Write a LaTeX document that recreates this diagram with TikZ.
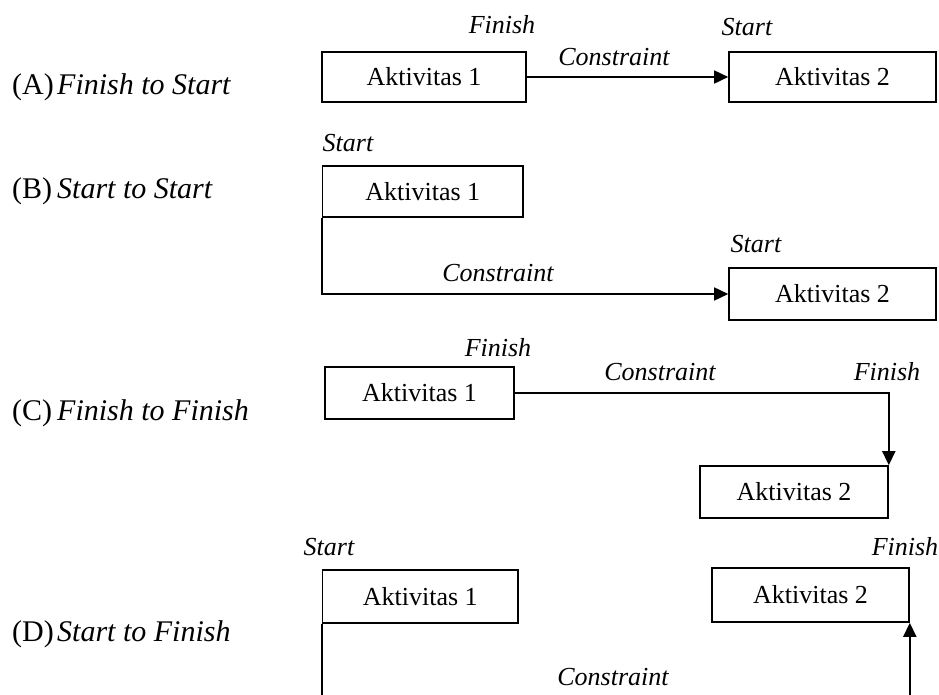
\documentclass[tikz,border=0pt]{standalone}
\usepackage{fontspec}
\setmainfont{Liberation Serif}
\usetikzlibrary{arrows.meta}
\begin{document}
\begin{tikzpicture}[x=1pt,y=-1pt,
  box/.style={draw, line width=1.6pt, inner sep=0pt, font=\fontsize{26}{31}\selectfont},
  lab/.style={font=\fontsize{26}{31}\selectfont\itshape, inner sep=0pt},
  rowtag/.style={font=\fontsize{30}{36}\selectfont, inner sep=0pt, anchor=base west},
  rowname/.style={font=\fontsize{30}{36}\selectfont\itshape, inner sep=0pt, anchor=base west},
  conn/.style={line width=1.6pt, -{Triangle[length=14pt,width=13pt]}}]
\useasboundingbox (0,0) rectangle (939,695);

% ---- left labels
\node[rowtag] (tA) at (12,95) {(A)};
\node[rowname] (nA) at (57,95) {Finish to Start};
\node[rowtag] (tB) at (12,199) {(B)};
\node[rowname] (nB) at (57,199) {Start to Start};
\node[rowtag] (tC) at (12,420) {(C)};
\node[rowname] (nC) at (57,420) {Finish to Finish};
\node[rowtag] (tD) at (12,641) {(D)};
\node[rowname] (nD) at (57,641) {Start to Finish};

% ---- (A) Finish to Start
\node[box, minimum width=204pt, minimum height=50pt] (aA1) at (424,77) {Aktivitas 1};
\node[box, minimum width=207pt, minimum height=50pt] (aA2) at (832.5,77) {Aktivitas 2};
\draw[conn] (aA1.east) -- (aA2.west);
\node[lab] (aF) at (502,25) {Finish};
\node[lab] (aC) at (614,57) {Constraint};
\node[lab] (aS) at (747,27) {Start};

% ---- (B) Start to Start
\node[box, minimum width=200.5pt, minimum height=51pt] (bA1) at (422.75,191.5) {Aktivitas 1};
\node[box, minimum width=207pt, minimum height=52pt] (bA2) at (832.5,294) {Aktivitas 2};
\draw[conn] (bA1.south west) |- (bA2.west);
\node[lab] (bS1) at (348,143) {Start};
\node[lab] (bC) at (498,273) {Constraint};
\node[lab] (bS2) at (756,244) {Start};

% ---- (C) Finish to Finish
\node[box, minimum width=189pt, minimum height=52pt] (cA1) at (419.5,393) {Aktivitas 1};
\node[box, minimum width=188pt, minimum height=52pt] (cA2) at (794,492) {Aktivitas 2};
\draw[conn] (cA1.east) -| (cA2.north east);
\node[lab] (cF1) at (498,348) {Finish};
\node[lab] (cC) at (660,372) {Constraint};
\node[lab] (cF2) at (887,372) {Finish};

% ---- (D) Start to Finish
\node[box, minimum width=195.5pt, minimum height=53pt] (dA1) at (420.25,596.5) {Aktivitas 1};
\node[box, minimum width=197pt, minimum height=54pt] (dA2) at (810.5,595) {Aktivitas 2};
\coordinate (dbot) at (0,730);
\draw[conn] (dA1.south west) -- (dA1.south west |- dbot) -| (dA2.south east);
\node[lab] (dS) at (329,547) {Start};
\node[lab] (dF) at (905,547) {Finish};
\node[lab] (dC) at (613,677) {Constraint};
\end{tikzpicture}
\end{document}
